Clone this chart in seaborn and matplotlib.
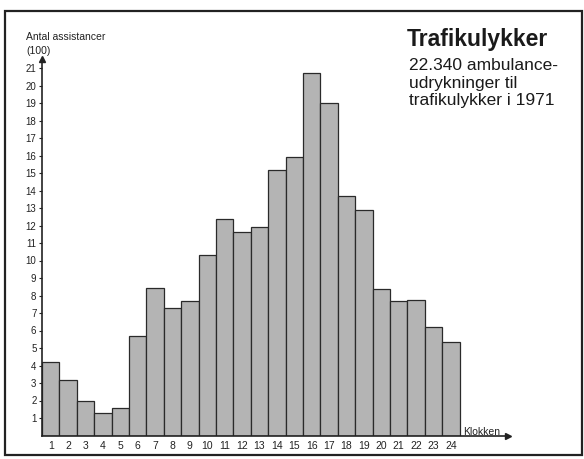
import numpy as np
import pandas as pd
import matplotlib
matplotlib.use("Agg")
import matplotlib.pyplot as plt
from matplotlib.patches import Rectangle
import seaborn as sns

# Ambulanceudrykninger pr. klokkeslæt (i hundreder)
timer = list(range(1, 25))
antal = [4.2, 3.2, 2.0, 1.3, 1.6, 5.7, 8.45, 7.3, 7.7, 10.3, 12.4, 11.65,
         11.9, 15.2, 15.9, 20.7, 19.0, 13.7, 12.9, 8.4, 7.7, 7.75, 6.2, 5.35]
yticks = list(range(1, 22))

df = pd.DataFrame({'Klokken': timer, 'Antal': antal})

sns.set_theme(style='white')
plt.rcParams['font.family'] = ['Liberation Sans', 'DejaVu Sans']

W, H = 584, 459
fig = plt.figure(figsize=(W / 100, H / 100), dpi=100)
fig.patch.set_facecolor('white')

# akser placeret i pixel
x0, x1 = 42, 508
y_base, y_top = 435.5, 59
ax = fig.add_axes([x0 / W, (H - y_base) / H, (x1 - x0) / W, (y_base - y_top) / H])
ax.set_facecolor('none')

sns.barplot(data=df, x='Klokken', y='Antal', order=timer, width=1.0,
            color='#b4b4b4', saturation=1, edgecolor='#2a2a2a', linewidth=0.9, ax=ax)

ax.set_xlim(-0.5, -0.5 + (x1 - x0) / 17.4)
ax.set_ylim(0, (y_base - y_top) / 17.5)
ax.set_yticks(yticks)
ax.set_yticklabels([str(v) for v in yticks], fontsize=7, color='#222')
ax.set_xticks(range(24))
ax.set_xticklabels([str(t) for t in timer], fontsize=7.5, color='#222')
ax.tick_params(axis='y', length=2, width=0.8, direction='out', pad=2, left=True, color='#222')
ax.tick_params(axis='x', length=0, pad=4)
ax.set_xlabel('')
ax.set_ylabel('')

for s in ['top', 'right']:
    ax.spines[s].set_visible(False)
for s in ['left', 'bottom']:
    ax.spines[s].set_color('#222')
    ax.spines[s].set_linewidth(1.2)
ax.plot(1, 0, '>', color='#222', markersize=4, transform=ax.transAxes, clip_on=False)
ax.plot(0, 1, '^', color='#222', markersize=4, transform=ax.transAxes, clip_on=False)

# tekster
fig.text(26 / W, 1 - 37 / H, 'Antal assistancer', fontsize=7.5, color='#222', va='center')
fig.text(26 / W, 1 - 51 / H, '(100)', fontsize=7.5, color='#222', va='center')
fig.text(463 / W, 1 - 432 / H, 'Klokken', fontsize=7.5, color='#222', va='center')
fig.text(407 / W, 1 - 46 / H, 'Trafikulykker', fontsize=16.5, fontweight='bold',
         color='#1a1a1a', va='baseline')
for i, linje in enumerate(['22.340 ambulance-', 'udrykninger til', 'trafikulykker i 1971']):
    fig.text(409 / W, 1 - (66 + 17.5 * i) / H, linje, fontsize=12.5, color='#1a1a1a',
             va='center')

# ramme
fig.add_artist(Rectangle((5 / W, 1 - 455 / H), 577 / W, 444 / H, transform=fig.transFigure,
                         fill=False, edgecolor='#222', linewidth=1.6))

fig.savefig('out.png', dpi=100)
